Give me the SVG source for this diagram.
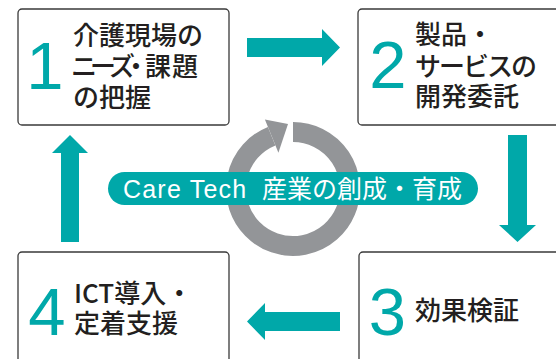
<svg xmlns="http://www.w3.org/2000/svg" width="556" height="359" viewBox="0 0 556 359">
<style>
.box{fill:#fff;stroke:#3a3a3a;stroke-width:1.3}
.num{font-family:"Liberation Sans",Arial,sans-serif;font-size:67px;fill:#00a8a9;text-anchor:middle}
.lbl{font-family:"Noto Sans CJK JP","Noto Sans",sans-serif;font-size:26px;font-weight:500;fill:#231f20}
.arr{fill:#00a8a9}
.ban{font-family:"Liberation Sans","Noto Sans CJK JP",sans-serif;font-size:25px;fill:#fff}
</style>
<rect width="556" height="359" fill="#fff"/>
<g id="cycle">
<path d="M 293 132 A 57 57 0 1 1 271.65 136.15" fill="none" stroke="#939598" stroke-width="20"/>
<polygon points="264.9,119.5 288,124 278.4,152.8" fill="#939598"/>
</g>
<g id="banner">
<rect x="108" y="172" width="370" height="33" rx="16.5" fill="#00a8a9"/>
<text class="ban" x="123" y="197.5" letter-spacing="1.2">Care Tech</text>
<text class="ban" x="262" y="197.5" font-family="Noto Sans CJK JP,sans-serif" font-size="24.5">産業の創成・育成</text>
</g>
<g id="node1">
<rect class="box" x="18" y="9" width="211" height="116" rx="4"/>
<text class="num" x="45" y="89">1</text>
<text class="lbl" x="73" y="45">介護現場の</text>
<text class="lbl" x="71 90 109 123 145 172" y="76">ニーズ・課題</text>
<text class="lbl" x="73" y="107">の把握</text>
</g>
<g id="node2">
<rect class="box" x="358" y="9" width="220" height="116" rx="4"/>
<text class="num" x="388" y="88">2</text>
<text class="lbl" x="415" y="44">製品・</text>
<text class="lbl" x="415 439 463 487 511" y="76">サービスの</text>
<text class="lbl" x="415" y="106">開発委託</text>
</g>
<g id="node3">
<rect class="box" x="359" y="252" width="220" height="130" rx="4"/>
<text class="num" x="387.5" y="335">3</text>
<text class="lbl" x="415" y="320">効果検証</text>
</g>
<g id="node4">
<rect class="box" x="18" y="252" width="211" height="130" rx="4"/>
<text class="num" x="47" y="335">4</text>
<text class="lbl" x="74" y="303">ICT導入・</text>
<text class="lbl" x="74" y="333">定着支援</text>
</g>
<g id="connectors">
<polygon class="arr" points="247,38 322,38 322,29 340,47.5 322,66 322,57 247,57"/>
<polygon class="arr" points="508,135 527,135 527,225 536,225 517.5,242 499,225 508,225"/>
<polygon class="arr" points="340,312 340,331 265,331 265,340 247,321.5 265,303 265,312"/>
<polygon class="arr" points="61,242 61,153 52,153 70,135 88,153 79,153 79,242"/>
</g>
</svg>
